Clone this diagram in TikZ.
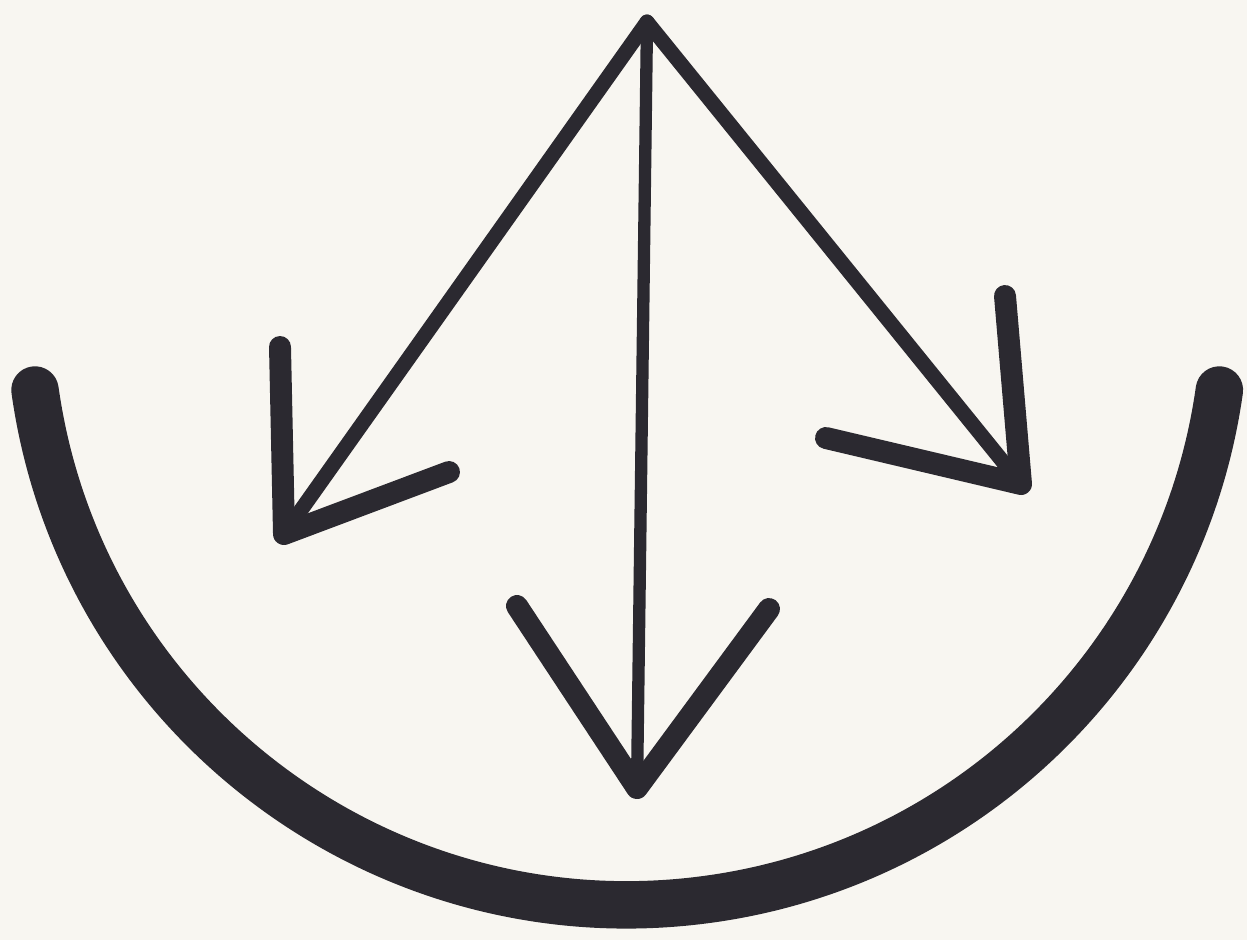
\documentclass[tikz,border=0pt]{standalone}
\definecolor{paper}{HTML}{F8F6F1}
\definecolor{ink}{HTML}{2B2930}
\begin{document}
\begin{tikzpicture}[x=0.02cm,y=0.02cm,
  shaft/.style={draw=ink,line width=8.5pt,line cap=round,line join=round},
  barb/.style={draw=ink,line width=12.5pt,line cap=round,line join=round},
  bowl/.style={draw=ink,line width=27pt,line cap=round}]
\fill[paper] (0,0) rectangle (1247,-940);
\useasboundingbox (0,0) rectangle (1247,-940);
% named points
\coordinate (apex) at (647,-22);
\coordinate (tipL) at (284,-534);
\coordinate (tipC) at (637,-788);
\coordinate (tipR) at (1021,-484);
\coordinate (barbL1) at (280,-347);
\coordinate (barbL2) at (449,-472);
\coordinate (barbC1) at (517,-606);
\coordinate (barbC2) at (769,-609);
\coordinate (barbR1) at (1005,-296);
\coordinate (barbR2) at (826,-438);
% bowl
\draw[bowl] (35,-390) arc[start angle=188, end angle=352, radius=598];
% shafts
\draw[shaft] (apex) -- (tipL);
\draw[shaft,line width=7pt] (apex) -- (tipC);
\draw[shaft] (apex) -- (tipR);
% arrow heads
\draw[barb] (barbL1) -- (tipL) -- (barbL2);
\draw[barb] (barbC1) -- (tipC) -- (barbC2);
\draw[barb] (barbR1) -- (tipR) -- (barbR2);
\end{tikzpicture}
\end{document}
